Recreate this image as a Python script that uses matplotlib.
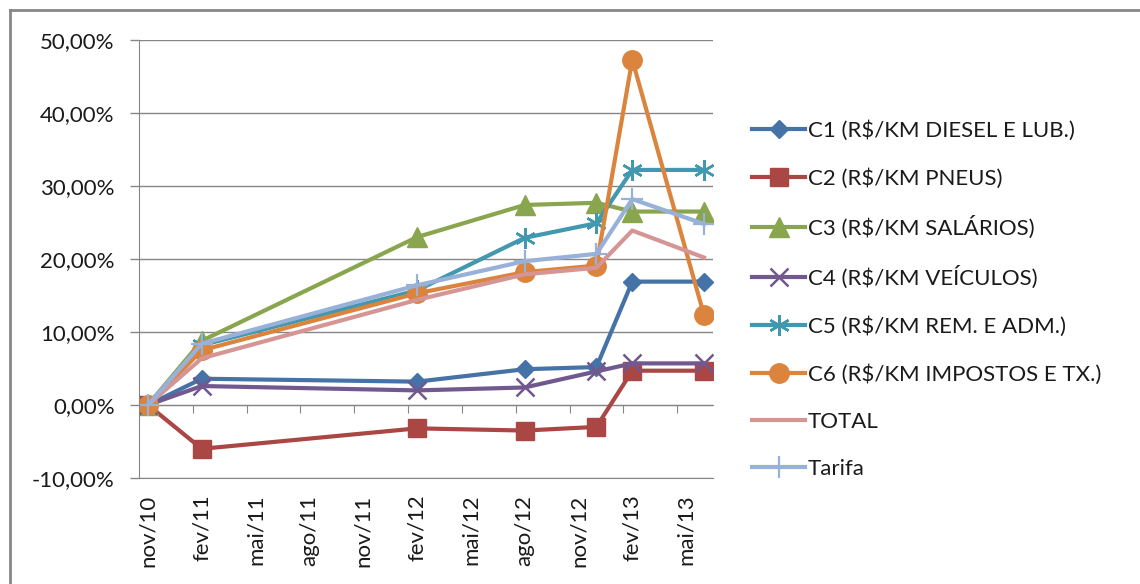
import matplotlib
matplotlib.use('Agg')
import matplotlib.pyplot as plt
from matplotlib.lines import Line2D
from matplotlib.ticker import FuncFormatter, FixedLocator

plt.rcParams['font.family'] = ['Lato', 'DejaVu Sans']

# dados (variação acumulada em %)
datas = ['nov/10', 'fev/11', 'fev/12', 'ago/12', 'dez/12', 'fev/13', 'jun/13']
series = ['C1 (R$/KM DIESEL E LUB.)', 'C2 (R$/KM PNEUS)', 'C3 (R$/KM SALÁRIOS)',
          'C4 (R$/KM VEÍCULOS)', 'C5 (R$/KM REM. E ADM.)', 'C6 (R$/KM IMPOSTOS E TX.)',
          'TOTAL', 'Tarifa']
c1 = [0.0, 3.6, 3.2, 4.9, 5.2, 16.9, 16.9]
c2 = [0.0, -6.0, -3.2, -3.5, -3.0, 4.7, 4.7]
c3 = [0.0, 8.8, 23.0, 27.4, 27.7, 26.5, 26.5]
c4 = [0.0, 2.6, 2.0, 2.4, 4.6, 5.7, 5.7]
c5 = [0.0, 8.2, 15.7, 22.9, 24.9, 32.2, 32.2]
c6 = [0.0, 7.5, 15.3, 18.2, 19.1, 47.3, 12.3]
total = [0.0, 6.4, 14.4, 17.9, 18.8, 23.9, 20.2]
tarifa = [0.0, 8.4, 16.4, 19.7, 20.7, 28.2, 24.8]
valores = [c1, c2, c3, c4, c5, c6, total, tarifa]

rotulos_x = ['nov/10', 'fev/11', 'mai/11', 'ago/11', 'nov/11', 'fev/12',
             'mai/12', 'ago/12', 'nov/12', 'fev/13', 'mai/13']
meses = ['jan', 'fev', 'mar', 'abr', 'mai', 'jun', 'jul', 'ago', 'set', 'out', 'nov', 'dez']


def mes_idx(s):
    m, a = s.split('/')
    return (int(a) - 10) * 12 + meses.index(m) - 10


cores = ['#4572A7', '#AA4643', '#89A54E', '#71588F', '#4198AF', '#DB843D', '#D59594', '#97B1D8']
marcadores = [('D', 9, 1), ('s', 13, 1), ('^', 14, 1), ('x', 13, 1.8),
              ((6, 2, 0), 15, 1.8), ('o', 14, 1), (None, 0, 1), ('+', 16, 1.6)]

fig = plt.figure(figsize=(11.4, 5.84), dpi=100)
ax = fig.add_axes([139 / 1140, 1 - 478 / 584, (713 - 139) / 1140, (478 - 40) / 584])

xs = [mes_idx(d) for d in datas]
for nome, ys, cor, (mk, ms, mew) in zip(series, valores, cores, marcadores):
    ax.plot(xs, ys, color=cor, lw=3, marker=mk, markersize=ms,
            markeredgewidth=mew, markeredgecolor=cor, markerfacecolor=cor,
            label=nome, solid_joinstyle='round')

ax.set_xlim(-0.5, 31.5)
ax.set_ylim(-10, 50)
ax.set_yticks(range(-10, 51, 10))
ax.yaxis.set_major_formatter(FuncFormatter(lambda v, p: f'{v:.2f}%'.replace('.', ',')))
ax.grid(axis='y', color='#868686', lw=1)
ax.set_axisbelow(True)
for s in ['top', 'right']:
    ax.spines[s].set_visible(False)
ax.spines['left'].set_color('#868686')
ax.spines['bottom'].set_color('#868686')
ax.tick_params(axis='y', direction='out', length=6.5, width=1, color='#868686',
               pad=11, labelsize=16, labelcolor='#1a1a1a')

# rótulos do eixo x na parte de baixo
ax.xaxis.set_major_locator(FixedLocator([mes_idx(r) for r in rotulos_x]))
ax.set_xticklabels(rotulos_x, rotation=90, fontsize=16, color='#1a1a1a')
ax.tick_params(axis='x', length=0, pad=12)

# eixo horizontal no 0%
eixo0 = ax.secondary_xaxis(10 / 60)
eixo0.spines['bottom'].set_color('#868686')
eixo0.set_xticks([mes_idx(r) - 0.5 for r in rotulos_x[1:]])
eixo0.tick_params(direction='out', length=6, color='#868686', labelbottom=False)

leg = fig.legend(loc='upper left', bbox_to_anchor=(752 / 1140, 1 - 120 / 584),
                 frameon=False, fontsize=16, handlelength=2.4, handletextpad=0.1,
                 labelspacing=1.22, numpoints=1, borderpad=0, borderaxespad=0)
for t in leg.get_texts():
    t.set_color('#1a1a1a')

# moldura do gráfico (só topo e esquerda aparecem)
y_top = 1 - 10 / 584
fig.lines.append(Line2D([10 / 1140, 1.05], [y_top, y_top], transform=fig.transFigure,
                        color='#878787', lw=2))
fig.lines.append(Line2D([10 / 1140, 10 / 1140], [-0.05, y_top], transform=fig.transFigure,
                        color='#878787', lw=2))

fig.savefig('out.png', dpi=100)
